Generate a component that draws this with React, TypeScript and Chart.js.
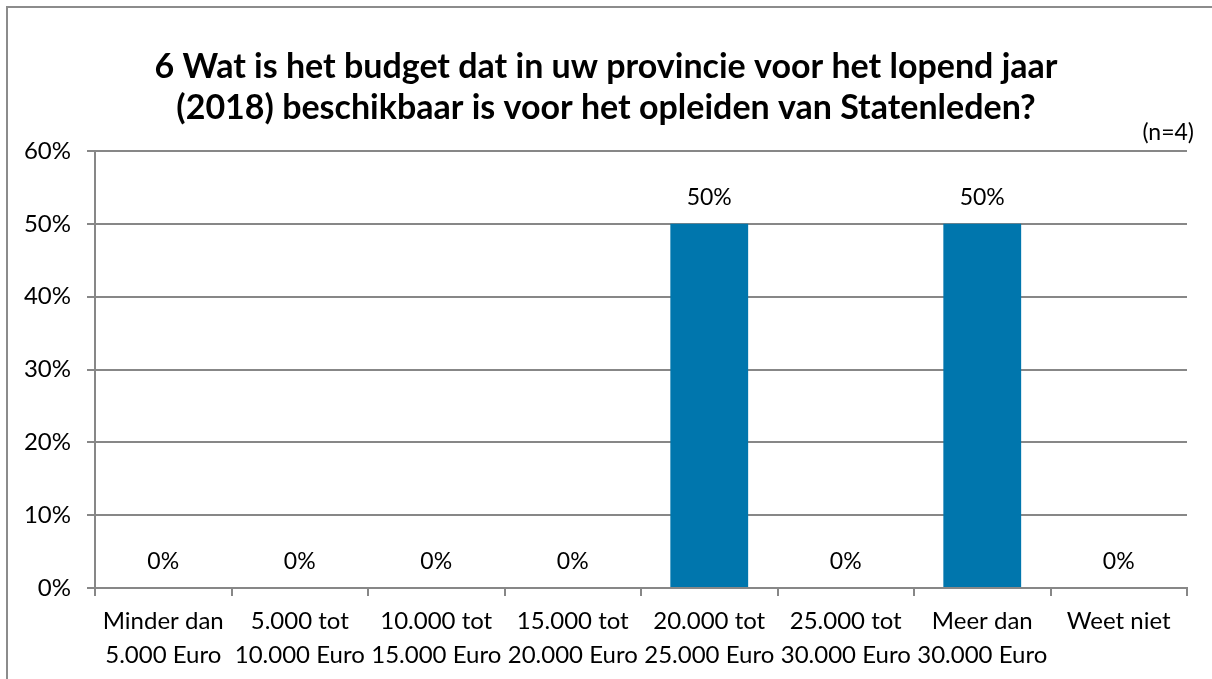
import React, { useEffect, useRef } from "react";
import { Chart, registerables } from "chart.js";

Chart.register(...registerables);

const titleLines = [
  "6 Wat is het budget dat in uw provincie voor het lopend jaar",
  "(2018) beschikbaar is voor het opleiden van Statenleden?",
];
const noteText = "(n=4)";
const categories: string[][] = [
  ["Minder dan", "5.000 Euro"],
  ["5.000 tot", "10.000 Euro"],
  ["10.000 tot", "15.000 Euro"],
  ["15.000 tot", "20.000 Euro"],
  ["20.000 tot", "25.000 Euro"],
  ["25.000 tot", "30.000 Euro"],
  ["Meer dan", "30.000 Euro"],
  ["Weet niet"],
];
const values = [0, 0, 0, 0, 50, 0, 50, 0];
const yMin = 0;
const yMax = 60;
const yStep = 10;

const FONT = "Lato, 'Open Sans', sans-serif";
const GRID = "#878787";

export default function App() {
  const ref = useRef<HTMLCanvasElement | null>(null);

  useEffect(() => {
    if (!ref.current) return;
    document.body.style.overflow = "hidden";
    const W = 1204;
    const H = 671;
    const plotLeft = 87;
    const plotRight = 1179;
    const plotTop = 143;
    const plotBottom = 580;

    const overlay = {
      id: "overlay",
      afterDatasetsDraw(chart: any) {
        const ctx = chart.ctx;
        ctx.save();
        ctx.fillStyle = "#000";
        ctx.textAlign = "center";
        ctx.textBaseline = "middle";
        ctx.font = `23px ${FONT}`;
        const meta = chart.getDatasetMeta(0);
        meta.data.forEach((bar: any, i: number) => {
          ctx.fillText(values[i] + "%", bar.x, bar.y - 26);
        });
        ctx.font = `bold 34px ${FONT}`;
        const cx = 598;
        ctx.fillText(titleLines[0], cx, 59);
        ctx.fillText(titleLines[1], cx, 100);
        ctx.font = `23px ${FONT}`;
        ctx.textAlign = "right";
        ctx.fillText(noteText, 1186, 125);
        ctx.restore();
      },
    };

    const chart = new Chart(ref.current, {
      type: "bar",
      data: {
        labels: categories,
        datasets: [
          {
            data: values,
            backgroundColor: "#0076AD",
            barPercentage: 0.57,
            categoryPercentage: 1,
          },
        ],
      },
      options: {
        animation: false,
        responsive: false,
        maintainAspectRatio: false,
        layout: {
          padding: { top: plotTop, right: W - plotRight, left: 0, bottom: 0 },
        },
        plugins: {
          legend: { display: false },
          title: { display: false },
          tooltip: { enabled: false },
        },
        scales: {
          x: {
            offset: true,
            grid: {
              offset: true,
              drawOnChartArea: false,
              drawTicks: true,
              tickLength: 8,
              color: GRID,
              lineWidth: 2,
            },
            border: { display: true, color: GRID, width: 2 },
            ticks: {
              color: "#000",
              font: { family: FONT, size: 24, lineHeight: 1.42 },
              padding: 8,
              maxRotation: 0,
              autoSkip: false,
            },
            afterFit(scale: any) {
              scale.height = H - plotBottom;
            },
          },
          y: {
            min: yMin,
            max: yMax,
            ticks: {
              stepSize: yStep,
              color: "#000",
              font: { family: FONT, size: 24 },
              padding: 16,
              callback: (v: any) => v + "%",
            },
            grid: {
              color: GRID,
              lineWidth: 2,
              drawTicks: true,
              tickLength: 8,
            },
            border: { display: true, color: GRID, width: 2 },
            afterFit(scale: any) {
              scale.width = plotLeft;
            },
          },
        },
      },
      plugins: [overlay],
    });
    return () => chart.destroy();
  }, []);

  return (
    <div
      style={{
        position: "absolute",
        left: 6,
        top: 6,
        width: 1206,
        height: 673,
        borderLeft: "2px solid #8c8c8c",
        borderTop: "2px solid #8c8c8c",
        background: "#fff",
      }}
    >
      <canvas ref={ref} width={1204} height={671} style={{ display: "block" }} />
    </div>
  );
}
